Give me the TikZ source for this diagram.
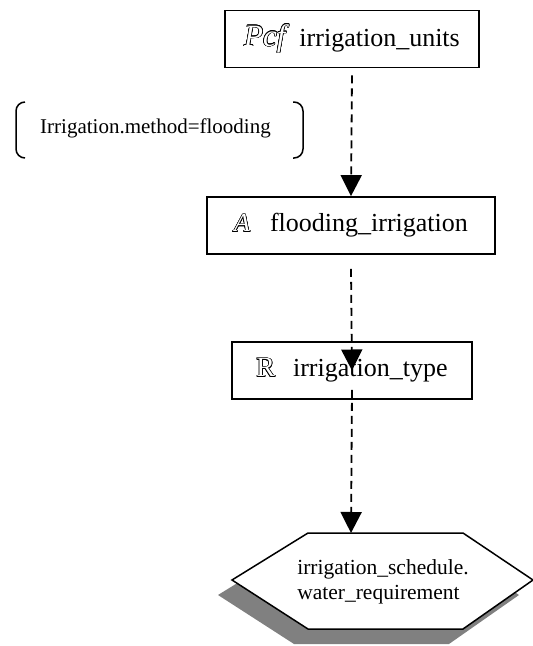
\documentclass[tikz,border=0pt]{standalone}
\usepackage{fontspec}
\setmainfont{Liberation Serif}
\usepackage{contour}
\usetikzlibrary{arrows.meta,calc}
\contourlength{0.6pt}
% hollow (outlined) letters for the element-kind markers
\newcommand{\hollowmark}[1]{{\color{white}\contour{black}{#1}}}
\begin{document}
\begin{tikzpicture}[x=1pt,y=-1pt,
  unitbox/.style={draw, line width=1.8pt, minimum width=#1, minimum height=57pt,
    inner sep=0pt, font=\fontsize{26}{30}\selectfont},
  flow/.style={line width=1.8pt, dash pattern=on 8pt off 5pt,
    -{Triangle[length=21pt,width=21pt]}},
  bracket/.style={line width=1.5pt, rounded corners=9pt},
  ]
\useasboundingbox (0,0) rectangle (533,646);

% boxes
\node[unitbox=254pt] (units) at (352,39)
  {\hollowmark{\fontsize{31}{31}\selectfont\itshape Pcf}\hspace{14pt}irrigation\_units};
\node[unitbox=288pt] (method) at (351,225.5)
  {\hollowmark{\itshape A}\hspace{20pt}flooding\_irrigation};
\node[unitbox=240pt] (kind) at (352,370.5)
  {\hollowmark{\fontsize{28}{28}\selectfont R}\hspace{18pt}irrigation\_type};

% condition in brackets
\node[anchor=west, inner sep=0pt, font=\fontsize{21}{25}\selectfont] (cond) at (40,128)
  {Irrigation.method=flooding};
\draw[bracket] (25,102) -- (16,102) -- (16,158) -- (25,158);
\draw[bracket] (293,102) -- (303,102) -- (303,158) -- (293,158);

% hexagonal target with its shadow
\fill[gray] (294,548) -- (449,548) -- (519,595) -- (449,644) -- (294,644) -- (218,595) -- cycle;
\draw[line width=1.5pt, fill=white] (308,533) -- (463,533) -- (533,580) -- (463,629)
  -- (308,629) -- (232,580) -- cycle;
\node[align=left, inner sep=0pt, font=\fontsize{21.5}{25}\selectfont] (target) at (383,582)
  {irrigation\_schedule.\\water\_requirement};
\coordinate (hextop) at (351,533);

% dependencies
\draw[flow] ([yshift=-7pt]units.south) -- (method.north);
\draw[flow] ([yshift=-14pt]method.south) -- (kind.center);
\draw[flow] ([yshift=10pt]kind.south) -- (hextop);
\end{tikzpicture}
\end{document}
